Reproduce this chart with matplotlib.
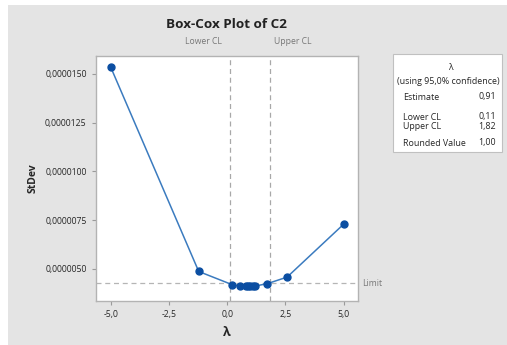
import matplotlib
matplotlib.use('Agg')
from matplotlib import pyplot as plt
from matplotlib.patches import Rectangle
from matplotlib.ticker import FuncFormatter

# box-cox data
lam = [-5.0, -1.22, 0.22, 0.55, 0.82, 0.91, 1.0, 1.09, 1.18, 1.71, 2.57, 5.0]
stdev = [1.536e-5, 4.86e-6, 4.18e-6, 4.12e-6, 4.11e-6, 4.10e-6, 4.10e-6, 4.10e-6,
         4.11e-6, 4.23e-6, 4.57e-6, 7.29e-6]
lower_cl = 0.11
upper_cl = 1.82
limit = 4.25e-6
x_ticks = [-5.0, -2.5, 0.0, 2.5, 5.0]
y_ticks = [5.0e-6, 7.5e-6, 10.0e-6, 12.5e-6, 15.0e-6]
table_rows = [('Estimate', '0,91'), ('Lower CL', '0,11'), ('Upper CL', '1,82'),
              ('Rounded Value', '1,00')]

plt.rcParams['font.family'] = ['Open Sans', 'DejaVu Sans']
grey_txt = '#777777'
dark_txt = '#262626'

fig = plt.figure(figsize=(5.07, 3.45), dpi=100, facecolor='white')
W, H = 507.0, 345.0
# grey panel behind everything
fig.patches.append(Rectangle((8 / W, 0), 1 - 8 / W, 1 - 5 / H, transform=fig.transFigure,
                             facecolor='#e4e4e4', edgecolor='none', zorder=-10))

ax = fig.add_axes([95.7 / W, 1 - 300.7 / H, 262 / W, 244.7 / H])
ax.set_facecolor('white')
ax.plot(lam, stdev, color='#3b7bbf', lw=1.1, marker='o', markersize=5,
        markerfacecolor='#0b4ea2', markeredgecolor='#0b4ea2', zorder=3)
ax.axvline(lower_cl, color='#a8a8a8', lw=0.9, ls=(0, (4, 3)), zorder=1)
ax.axvline(upper_cl, color='#a8a8a8', lw=0.9, ls=(0, (4, 3)), zorder=1)
ax.axhline(limit, color='#b5b5b5', lw=0.9, ls=(0, (4, 3)), zorder=1)

ax.set_xlim(-5.64, 5.6)
ax.set_ylim(3.36e-6, 1.592e-5)
ax.set_xticks(x_ticks)
ax.set_yticks(y_ticks)
ax.xaxis.set_major_formatter(FuncFormatter(lambda v, p: ('%.1f' % v).replace('.', ',')))
ax.yaxis.set_major_formatter(FuncFormatter(lambda v, p: ('%.7f' % v).replace('.', ',')))
ax.tick_params(labelsize=6.2, colors='#9a9a9a', labelcolor=dark_txt, length=3, width=0.8)
for s in ax.spines.values():
    s.set_color('#b3b3b3')
    s.set_linewidth(1.0)

ax.set_ylabel('StDev', fontsize=7.5, fontweight='bold', color=dark_txt, labelpad=5)
ax.set_xlabel('λ', fontsize=9, fontweight='bold', color=dark_txt, labelpad=5)

# labels for reference lines
ax.text(lower_cl - 0.35, 1.06, 'Lower CL', transform=ax.get_xaxis_transform(),
        ha='right', va='center', fontsize=6.2, color=grey_txt)
ax.text(upper_cl + 0.2, 1.06, 'Upper CL', transform=ax.get_xaxis_transform(),
        ha='left', va='center', fontsize=6.2, color=grey_txt)
ax.text(1.016, limit, 'Limit', transform=ax.get_yaxis_transform(),
        ha='left', va='center', fontsize=6.2, color=grey_txt)

fig.text(226 / W, 1 - 24 / H, 'Box-Cox Plot of C2', ha='center', va='center',
         fontsize=9.7, fontweight='bold', color='#222222')

# lambda summary table
fig.patches.append(Rectangle((393 / W, 1 - 152 / H), 109 / W, 98 / H, transform=fig.transFigure,
                             facecolor='white', edgecolor='#c0c0c0', lw=0.8))
fig.text(450 / W, 1 - 67 / H, 'λ', ha='center', va='center', fontsize=6.3, color=dark_txt)
fig.text(448 / W, 1 - 81 / H, '(using 95,0% confidence)', ha='center', va='center',
         fontsize=6.4, color=dark_txt)
row_y = [97, 117, 127, 143]
for (name, val), yy in zip(table_rows, row_y):
    fig.text(403 / W, 1 - yy / H, name, ha='left', va='center', fontsize=6.4, color=dark_txt)
    fig.text(496 / W, 1 - yy / H, val, ha='right', va='center', fontsize=6.4, color=dark_txt)

fig.savefig('out.png', dpi=100, facecolor='white')
